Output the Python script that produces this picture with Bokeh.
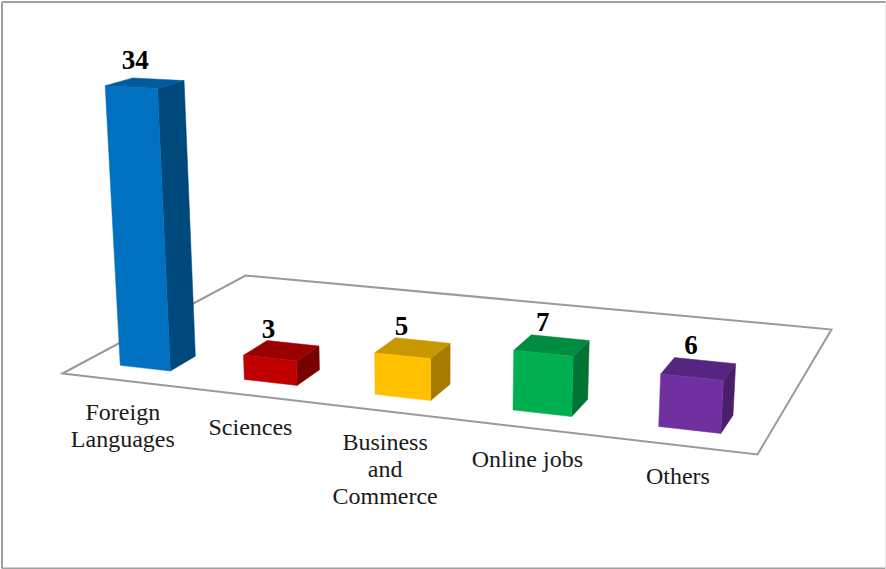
from bokeh.core.properties import value
from bokeh.embed import file_html
from bokeh.models import ColumnDataSource, Range1d
from bokeh.plotting import figure
from bokeh.resources import INLINE
import numpy as np

# Chart content
categories = ["Foreign\nLanguages", "Sciences", "Business\nand\nCommerce", "Online jobs", "Others"]
counts = [34, 3, 5, 7, 6]
front_colors = ["#0070c0", "#c00000", "#ffc000", "#00b050", "#7030a0"]
top_colors = ["#005b9d", "#990000", "#c99700", "#008c40", "#562580"]
side_colors = ["#00497d", "#790000", "#a67c00", "#007434", "#481f68"]

# Camera: floor corners on the page (front-left, front-right, back-right, back-left)
WIDTH, HEIGHT = 886, 569
FLOOR = [(62, 373), (757, 454), (831, 329), (245, 275)]
VERTICAL_VANISH = (437, 6260)
UNIT_RISE = 7.95       # page pixels per count at the floor's front-left corner
BAR_U_WIDTH = 0.082
BAR_U_SHIFT = -0.0005
BAR_V = (0.105, 0.235)
LABEL_OFFSET = (-1, 31)
LINE_STEP = 27


def floor_homography(corners):
    (x0, y0), (x1, y1), (x2, y2), (x3, y3) = corners
    dx1, dx2, sx = x1 - x2, x3 - x2, x0 - x1 + x2 - x3
    dy1, dy2, sy = y1 - y2, y3 - y2, y0 - y1 + y2 - y3
    g, h = np.linalg.solve([[dx1, dx2], [dy1, dy2]], [sx, sy])
    return np.array([
        [x1 - x0 + g * x1, x3 - x0 + h * x3, x0],
        [y1 - y0 + g * y1, y3 - y0 + h * y3, y0],
        [g, h, 1.0],
    ])


H = floor_homography(FLOOR)
k = -UNIT_RISE / (VERTICAL_VANISH[1] - FLOOR[0][1])
Z_COL = k * np.array([VERTICAL_VANISH[0], VERTICAL_VANISH[1], 1.0])


def project(u, v, z=0.0):
    q = H @ np.array([u, v, 1.0]) + z * Z_COL
    return q[0] / q[2], q[1] / q[2]


p = figure(width=WIDTH, height=HEIGHT, x_range=Range1d(0, WIDTH), y_range=Range1d(HEIGHT, 0),
           output_backend="svg", toolbar_location=None, min_border=0,
           background_fill_color="white", border_fill_color="white", outline_line_color=None)
p.axis.visible = False
p.grid.visible = False

# Frame around the chart area: heavier on three sides, faint on the right
p.segment([1.5, 1.5, 1.5], [1.5, 1.5, 568], [1.5, 885, 885], [568, 1.5, 568],
          line_color="#a0a0a0", line_width=2)
p.segment([885.5], [1.5], [885.5], [568], line_color="#d4d4d4", line_width=1)

# Floor
fx, fy = zip(*[project(u, v) for u, v in [(0, 0), (1, 0), (1, 1), (0, 1)]])
p.patch(list(fx), list(fy), fill_color="white", line_color="#9a9a9a", line_width=2,
        line_join="miter")

# Bars: each is three projected faces
n = len(counts)
faces = {"xs": [], "ys": [], "color": []}
val_x, val_y, val_text = [], [], []
lab_x, lab_y, lab_text = [], [], []
for i, c in enumerate(counts):
    uc = (i + 0.5) / n
    u0, u1 = uc - BAR_U_WIDTH / 2 + BAR_U_SHIFT, uc + BAR_U_WIDTH / 2 + BAR_U_SHIFT
    v0, v1 = BAR_V
    side = [project(u1, v0), project(u1, v1), project(u1, v1, c), project(u1, v0, c)]
    top = [project(u0, v0, c), project(u1, v0, c), project(u1, v1, c), project(u0, v1, c)]
    front = [project(u0, v0), project(u1, v0), project(u1, v0, c), project(u0, v0, c)]
    for face, col in ((side, side_colors[i]), (top, top_colors[i]), (front, front_colors[i])):
        xs, ys = zip(*face)
        faces["xs"].append(list(xs))
        faces["ys"].append(list(ys))
        faces["color"].append(col)
    # Value sits over the front edge of the bar's top, rising a little with the bar
    val_x.append((top[0][0] + top[1][0]) / 2 + 0.17 * c - 2)
    val_y.append(min(pt[1] for pt in top) - (2 + 0.2 * c))
    val_text.append(str(c))
    # Category name hangs below the floor's front edge
    lx, ly = project(uc, 0)
    for j, line in enumerate(categories[i].split("\n")):
        lab_x.append(lx + LABEL_OFFSET[0])
        lab_y.append(ly + LABEL_OFFSET[1] + j * LINE_STEP)
        lab_text.append(line)

p.patches("xs", "ys", source=ColumnDataSource(faces), fill_color="color", line_color="color",
          line_width=0.5)

p.text(val_x, val_y, text=val_text, text_font=value("Liberation Serif"), text_font_style="bold",
       text_font_size="27px", text_color="black", text_align="center", text_baseline="bottom")
p.text(lab_x, lab_y, text=lab_text, text_font=value("Liberation Serif"), text_font_size="24px",
       text_color="#1a1a1a", text_align="center", text_baseline="middle")

open("out.html", "w").write(file_html(p, INLINE))
